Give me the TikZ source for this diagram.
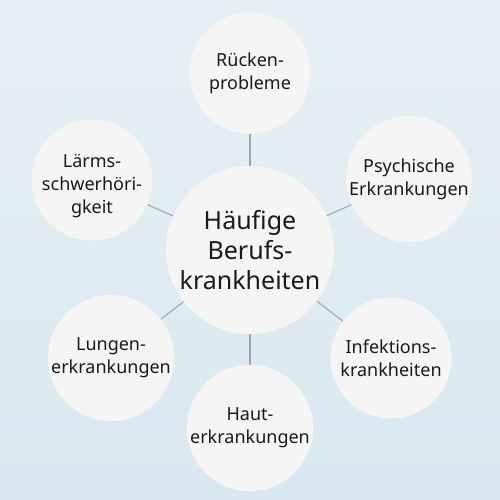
\documentclass[tikz,border=0pt]{standalone}
\usepackage{fontspec}
\setmainfont{Noto Sans}
\usetikzlibrary{calc}
\definecolor{bgtop}{HTML}{E6F0F4}
\definecolor{bgbot}{HTML}{D8E8F0}
\definecolor{circfill}{HTML}{F5F5F5}
\definecolor{linkcol}{HTML}{9AA9B1}
\definecolor{txt}{HTML}{1A1A1A}
\begin{document}
\begin{tikzpicture}[x=1pt,y=-1pt,
  hub/.style={circle,fill=circfill,minimum size=168pt,inner sep=0pt,align=center,
    text=txt,font=\fontsize{25}{30}\selectfont},
  leaf/.style={circle,fill=circfill,minimum size=121pt,inner sep=0pt,align=center,
    text=txt,font=\fontsize{18}{23}\selectfont},
  leaftext/.style={inner sep=0pt,align=center,text=txt,font=\fontsize{18}{23}\selectfont},
  link/.style={draw=linkcol,line width=1.1pt}]
\fill[top color=bgtop,bottom color=bgbot] (0,0) rectangle (500,500);
\useasboundingbox (0,0) rectangle (500,500);
\node[hub] (c) at (250,250) {Häufige\\Berufs-\\krankheiten};
\node[leaf] (t) at (250,73) {Rücken-\\probleme};
\node[leaf] (lt) at (92,180) {};
\node[leaftext] (ltx) at ($(lt)+(0,6)$) {Lärms-\\schwerhöri-\\gkeit};
\node[leaf] (rt) at (409,179) {Psychische\\Erkrankungen};
\node[leaf] (lb) at (111,358) {Lungen-\\erkrankungen};
\node[leaf] (rb) at (391,358) {Infektions-\\krankheiten};
\node[leaf] (b) at (250,428) {Haut-\\erkrankungen};
\foreach \n in {t,lt,rt,lb,rb,b}{\draw[link] (c) -- (\n);}
\end{tikzpicture}
\end{document}
